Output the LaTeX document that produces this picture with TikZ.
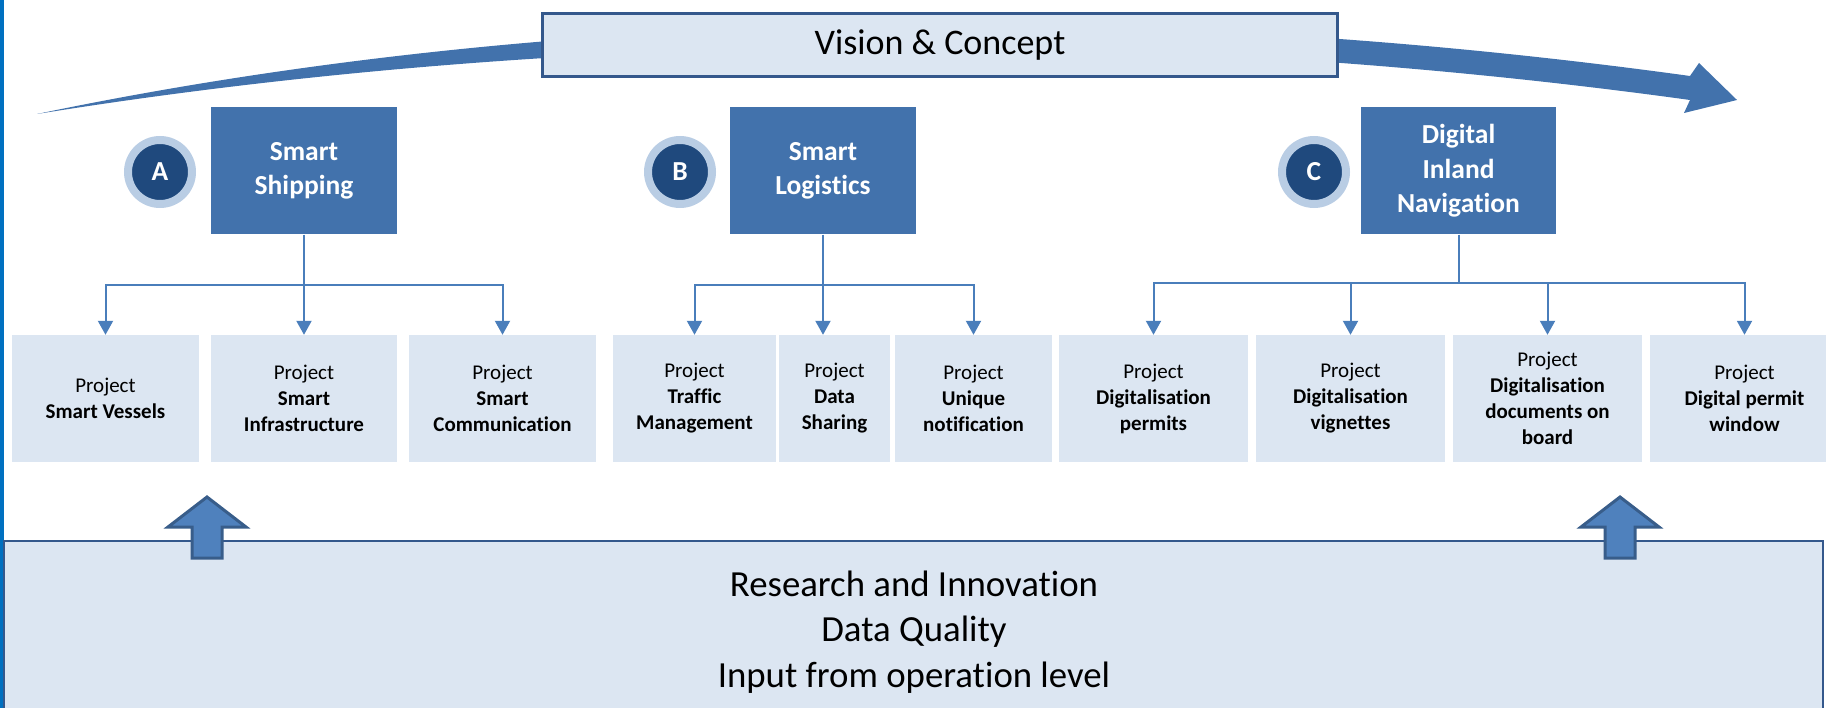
\documentclass[tikz,border=0pt]{standalone}
\usepackage{fontspec}
\setmainfont{Carlito}[Ligatures=CommonOff]
\usepackage{tikz}
\usetikzlibrary{calc}
\usetikzlibrary{arrows.meta}
\usetikzlibrary{positioning}
\definecolor{catblue}{RGB}{66, 114, 172}
\definecolor{badgedark}{RGB}{31, 73, 125}
\definecolor{badgering}{RGB}{185, 205, 228}
\definecolor{paleblue}{RGB}{220, 230, 242}
\definecolor{frameblue}{RGB}{52, 88, 140}
\definecolor{linkblue}{RGB}{74, 126, 187}
\definecolor{liftfill}{RGB}{79, 129, 189}
\definecolor{liftline}{RGB}{56, 93, 138}
\definecolor{edgeblue}{RGB}{0, 112, 192}

\tikzset{
    projbox/.style={fill=paleblue, inner sep=0pt, align=center, minimum height=127pt,
                    font=\fontsize{21}{26}\selectfont},
    catbox/.style={fill=catblue, text=white, inner sep=0pt, align=center, minimum height=127pt,
                   font=\fontsize{27.5}{34.5}\selectfont\bfseries},
    badge/.style={circle, fill=badgedark, draw=badgering, line width=8pt, minimum size=64pt,
                  inner sep=0pt, text=white, font=\fontsize{27.5}{32}\selectfont\bfseries},
    treeline/.style={draw=linkblue, line width=2pt},
    treearrow/.style={treeline, -{Triangle[width=15pt, length=14pt]}},
    liftarrow/.style={fill=liftfill, draw=liftline, line width=3pt, line join=miter}
}

\begin{document}
\begin{tikzpicture}[x=1pt, y=-1pt]
            \useasboundingbox (0,0) rectangle (1826,708);
            \clip (0,0) rectangle (1826,708);
            \fill[edgeblue] (0,0) rectangle (4,708);

            \fill[catblue] (37,114) .. controls (560,5) and (1140,0) .. (1690,76) -- (1699,63) -- (1737,100)
                 -- (1684,113) -- (1690,100) .. controls (1140,24) and (560,30) .. (37,114) -- cycle;
            \node[draw=frameblue, line width=3pt, fill=paleblue, minimum width=795pt, minimum height=63pt,
                  font=\fontsize{36}{43}\selectfont] (vision) at (940,45) {Vision \& Concept};

            \node[catbox, minimum width=186pt] (shipping)  at ( 304.0,171) {Smart\\Shipping};
            \node[catbox, minimum width=186pt] (logistics) at ( 823.0,171) {Smart\\Logistics};
            \node[catbox, minimum width=195pt] (inland)    at (1458.5,171) {Digital\\Inland\\Navigation};
            \node[badge] (badgeA) at ( 160,172) {A};
            \node[badge] (badgeB) at ( 680,172) {B};
            \node[badge] (badgeC) at (1314,172) {C};

            \node[projbox, minimum width=187pt] (vessels)   at ( 105.5,398.5) {Project\\\textbf{Smart Vessels}};
            \node[projbox, minimum width=186pt] (infra)     at ( 304.0,398.5) {Project\\\textbf{Smart}\\\textbf{Infrastructure}};
            \node[projbox, minimum width=187pt] (comm)      at ( 502.5,398.5) {Project\\\textbf{Smart}\\\textbf{Communication}};
            \node[projbox, minimum width=163pt] (traffic)   at ( 694.5,398.5) {Project\\\textbf{Traffic}\\\textbf{Management}};
            \node[projbox, minimum width=111pt] (sharing)   at ( 834.5,398.5) {Project\\\textbf{Data}\\\textbf{Sharing}};
            \node[projbox, minimum width=157pt] (notif)     at ( 973.5,398.5) {Project\\\textbf{Unique}\\\textbf{notification}};
            \node[projbox, minimum width=189pt] (permits)   at (1153.5,398.5) {Project\\\textbf{Digitalisation}\\\textbf{permits}};
            \node[projbox, minimum width=189pt] (vignettes) at (1350.5,398.5) {Project\\\textbf{Digitalisation}\\\textbf{vignettes}};
            \node[projbox, minimum width=189pt] (onboard)   at (1547.5,398.5) {Project\\\textbf{Digitalisation}\\\textbf{documents on}\\\textbf{board}};
            \node[projbox, minimum width=189pt] (window)    at (1744.5,398.5) {Project\\\textbf{Digital permit}\\\textbf{window}};

            \draw[treeline] (shipping.south) -- (shipping.south |- 0,285) coordinate (jA);
            \draw[treearrow] (jA) -| (vessels.north);
            \draw[treearrow] (jA) -- (infra.north);
            \draw[treearrow] (jA) -| (comm.north);

            \draw[treeline] (logistics.south) -- (logistics.south |- 0,285) coordinate (jB);
            \draw[treearrow] (jB) -| (traffic.north);
            \draw[treearrow] (jB) -- (jB |- sharing.north);
            \draw[treearrow] (jB) -| (notif.north);

            \draw[treeline] (inland.south) -- (inland.south |- 0,283) coordinate (jC);
            \draw[treearrow] (jC) -| (permits.north);
            \draw[treearrow] (jC) -| (vignettes.north);
            \draw[treearrow] (jC) -| (onboard.north);
            \draw[treearrow] (jC) -| (window.north);

            \filldraw[draw=frameblue, line width=2.5pt, fill=paleblue] (4,541) rectangle (1823,720);
            \node[align=center, font=\fontsize{36.8}{45.5}\selectfont] (research) at (914,632)
                 {Research and Innovation\\Data Quality\\Input from operation level};

            \filldraw[liftarrow] ( 207,497) -- ( 246,527) -- ( 222,527) -- ( 222,558) -- ( 192,558) -- ( 192,527) -- ( 168,527) -- cycle;
            \filldraw[liftarrow] (1620,497) -- (1659,527) -- (1635,527) -- (1635,558) -- (1605,558) -- (1605,527) -- (1581,527) -- cycle;
        \end{tikzpicture}
\end{document}
